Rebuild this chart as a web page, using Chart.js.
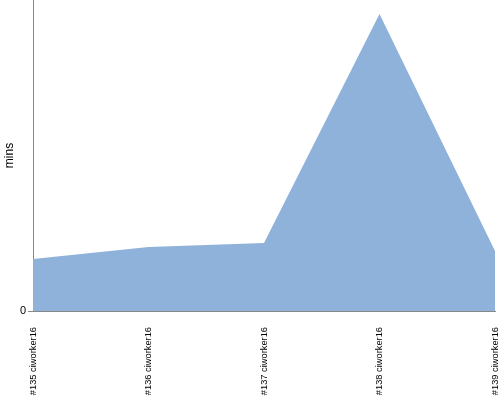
<!DOCTYPE html>
<html>
<head>
<meta charset="utf-8">
<script src="https://cdn.jsdelivr.net/npm/chart.js@4/dist/chart.umd.min.js"></script>
<style>
html,body{margin:0;padding:0;background:#fff;}
#wrap{width:500px;height:400px;}
</style>
</head>
<body>
<div id="wrap"><canvas id="c" width="500" height="400"></canvas></div>
<script>
const categories = ["#135 ciworker16", "#136 ciworker16", "#137 ciworker16", "#138 ciworker16", "#139 ciworker16"];
const durationMins = [1.67, 2.06, 2.19, 9.55, 1.93];
const yTickValues = [0];
const yAxisTitle = "mins";

new Chart(document.getElementById('c'), {
  type: 'line',
  data: {
    labels: categories,
    datasets: [{
      data: durationMins,
      fill: 'origin',
      backgroundColor: '#8fb2db',
      borderWidth: 0,
      borderColor: 'rgba(0,0,0,0)',
      pointRadius: 0,
      tension: 0
    }]
  },
  options: {
    responsive: false,
    animation: false,
    layout: { padding: { right: 5, top: 0, left: 0, bottom: 0 } },
    plugins: { legend: { display: false }, tooltip: { enabled: false } },
    scales: {
      x: {
        offset: false,
        grid: { display: false },
        border: { display: true, color: '#888' },
        ticks: {
          minRotation: 90, maxRotation: 90, autoSkip: false,
          color: '#000', font: { family: 'Liberation Sans', size: 9.3 }, padding: 8
        },
        afterFit: (axis) => { axis.height = 89; axis.paddingLeft = 0; axis.paddingRight = 0; axis.paddingTop = 0; axis.paddingBottom = 0; }
      },
      y: {
        min: 0, max: 10,
        afterBuildTicks: (axis) => { axis.ticks = yTickValues.map(v => ({ value: v })); },
        grid: { display: true, drawOnChartArea: false, drawTicks: true, tickLength: 5, color: '#888' },
        border: { display: true, color: '#888' },
        ticks: { color: '#000', font: { family: 'Liberation Sans', size: 11 }, padding: 2 },
        title: { display: true, text: yAxisTitle, color: '#000', font: { family: 'Liberation Sans', size: 12 }, padding: 2 },
        afterFit: (axis) => { axis.width = 33; axis.paddingLeft = 0; axis.paddingRight = 0; axis.paddingTop = 0; axis.paddingBottom = 0; }
      }
    }
  }
});
</script>
</body>
</html>
